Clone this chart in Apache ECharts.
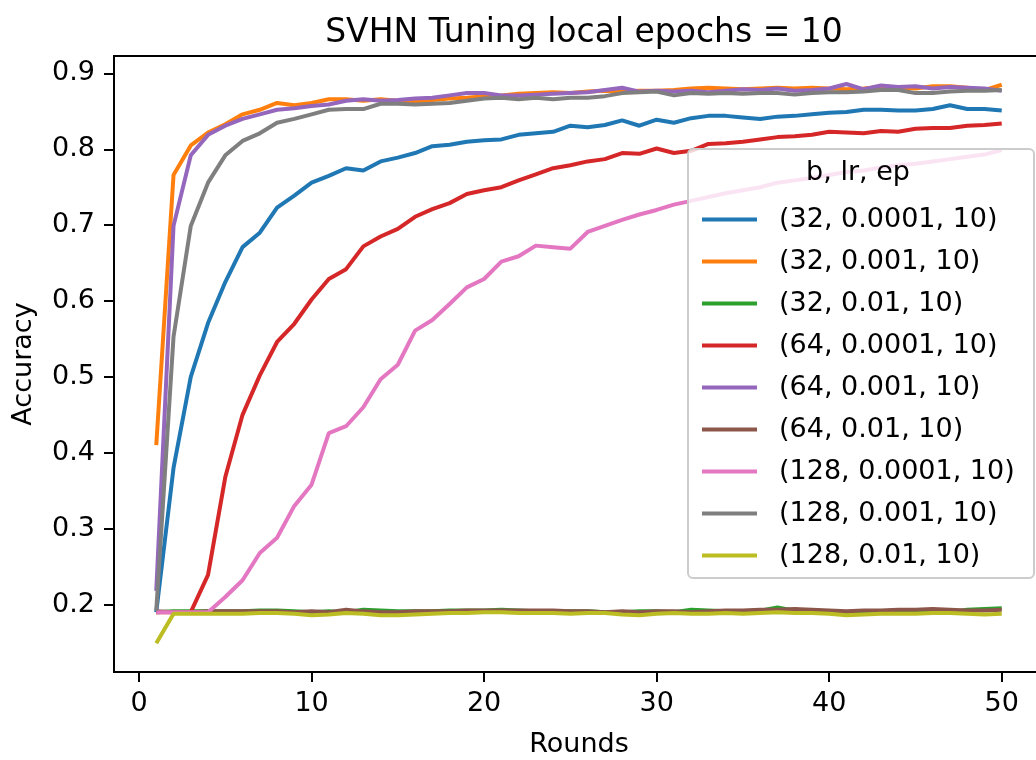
<!DOCTYPE html>
<html>
<head>
<meta charset="utf-8">
<script src="https://cdn.jsdelivr.net/npm/echarts@6/dist/echarts.min.js"></script>
<style>html,body{margin:0;padding:0;background:#fff}#c{width:1036px;height:760px}</style>
</head>
<body>
<div id="c"></div>
<script>
const rounds = Array.from({length: 50}, (_, i) => i + 1);
const xTicks = [0, 10, 20, 30, 40, 50];
const yTicks = [0.2, 0.3, 0.4, 0.5, 0.6, 0.7, 0.8, 0.9];
const seriesNames = ['(32, 0.0001, 10)', '(32, 0.001, 10)', '(32, 0.01, 10)', '(64, 0.0001, 10)', '(64, 0.001, 10)', '(64, 0.01, 10)', '(128, 0.0001, 10)', '(128, 0.001, 10)', '(128, 0.01, 10)'];
const colors = ['#1f77b4', '#ff7f0e', '#2ca02c', '#d62728', '#9467bd', '#8c564b', '#e377c2', '#7f7f7f', '#bcbd22'];

const b32_lr1e4 = [0.190, 0.380, 0.500, 0.571, 0.625, 0.671, 0.690, 0.723, 0.739, 0.756, 0.765, 0.775, 0.772, 0.784, 0.789, 0.795, 0.804, 0.806, 0.810, 0.812, 0.813, 0.819, 0.821, 0.823, 0.831, 0.829, 0.832, 0.838, 0.831, 0.839, 0.835, 0.841, 0.844, 0.844, 0.842, 0.840, 0.843, 0.844, 0.846, 0.848, 0.849, 0.852, 0.852, 0.851, 0.851, 0.853, 0.858, 0.853, 0.853, 0.851];
const b32_lr1e3 = [0.410, 0.766, 0.805, 0.822, 0.833, 0.846, 0.852, 0.861, 0.858, 0.861, 0.866, 0.866, 0.864, 0.866, 0.864, 0.863, 0.865, 0.867, 0.868, 0.870, 0.871, 0.873, 0.874, 0.875, 0.874, 0.876, 0.877, 0.876, 0.877, 0.877, 0.878, 0.880, 0.881, 0.880, 0.879, 0.880, 0.881, 0.880, 0.881, 0.880, 0.879, 0.880, 0.882, 0.881, 0.880, 0.883, 0.883, 0.881, 0.878, 0.885];
const b32_lr1e2 = [0.190, 0.191, 0.191, 0.191, 0.191, 0.191, 0.192, 0.192, 0.191, 0.190, 0.191, 0.190, 0.193, 0.192, 0.191, 0.191, 0.191, 0.192, 0.192, 0.192, 0.193, 0.192, 0.191, 0.191, 0.191, 0.191, 0.190, 0.190, 0.191, 0.191, 0.190, 0.193, 0.192, 0.191, 0.191, 0.192, 0.196, 0.192, 0.192, 0.191, 0.190, 0.191, 0.191, 0.192, 0.192, 0.191, 0.190, 0.193, 0.194, 0.195];
const b64_lr1e4 = [0.190, 0.190, 0.190, 0.239, 0.368, 0.450, 0.502, 0.546, 0.570, 0.602, 0.629, 0.642, 0.672, 0.685, 0.695, 0.711, 0.721, 0.729, 0.741, 0.746, 0.750, 0.759, 0.767, 0.775, 0.779, 0.784, 0.787, 0.795, 0.794, 0.801, 0.795, 0.798, 0.807, 0.808, 0.810, 0.813, 0.816, 0.817, 0.819, 0.823, 0.822, 0.821, 0.824, 0.823, 0.827, 0.828, 0.828, 0.831, 0.832, 0.834];
const b64_lr1e3 = [0.218, 0.699, 0.792, 0.819, 0.831, 0.840, 0.846, 0.852, 0.854, 0.857, 0.859, 0.864, 0.866, 0.864, 0.865, 0.867, 0.868, 0.871, 0.874, 0.874, 0.871, 0.871, 0.872, 0.873, 0.874, 0.875, 0.878, 0.881, 0.876, 0.877, 0.876, 0.877, 0.875, 0.877, 0.879, 0.878, 0.880, 0.877, 0.878, 0.880, 0.886, 0.879, 0.884, 0.882, 0.883, 0.880, 0.882, 0.881, 0.880, 0.877];
const b64_lr1e2 = [0.191, 0.190, 0.190, 0.191, 0.191, 0.191, 0.191, 0.191, 0.190, 0.191, 0.190, 0.193, 0.191, 0.190, 0.190, 0.191, 0.191, 0.191, 0.192, 0.192, 0.192, 0.192, 0.192, 0.192, 0.191, 0.191, 0.190, 0.191, 0.190, 0.191, 0.191, 0.190, 0.191, 0.192, 0.192, 0.193, 0.193, 0.194, 0.193, 0.192, 0.191, 0.192, 0.192, 0.193, 0.193, 0.194, 0.193, 0.192, 0.192, 0.193];
const b128_lr1e4 = [0.190, 0.190, 0.190, 0.190, 0.210, 0.232, 0.268, 0.288, 0.330, 0.358, 0.426, 0.435, 0.460, 0.497, 0.516, 0.561, 0.575, 0.596, 0.618, 0.629, 0.652, 0.659, 0.673, 0.671, 0.669, 0.691, 0.699, 0.707, 0.714, 0.720, 0.727, 0.732, 0.737, 0.742, 0.746, 0.750, 0.756, 0.759, 0.762, 0.766, 0.770, 0.772, 0.776, 0.779, 0.781, 0.784, 0.787, 0.790, 0.793, 0.799];
const b128_lr1e3 = [0.192, 0.553, 0.699, 0.756, 0.792, 0.811, 0.821, 0.835, 0.840, 0.846, 0.852, 0.853, 0.853, 0.860, 0.860, 0.859, 0.860, 0.861, 0.864, 0.867, 0.868, 0.866, 0.868, 0.866, 0.868, 0.868, 0.870, 0.874, 0.875, 0.876, 0.871, 0.874, 0.873, 0.874, 0.873, 0.874, 0.874, 0.872, 0.874, 0.875, 0.875, 0.876, 0.878, 0.878, 0.874, 0.874, 0.876, 0.877, 0.877, 0.878];
const b128_lr1e2 = [0.149, 0.188, 0.188, 0.188, 0.188, 0.188, 0.189, 0.189, 0.188, 0.186, 0.187, 0.189, 0.188, 0.186, 0.186, 0.187, 0.188, 0.189, 0.189, 0.190, 0.190, 0.189, 0.189, 0.189, 0.188, 0.189, 0.189, 0.187, 0.186, 0.188, 0.189, 0.188, 0.188, 0.189, 0.188, 0.189, 0.190, 0.189, 0.189, 0.188, 0.186, 0.187, 0.188, 0.188, 0.188, 0.189, 0.189, 0.188, 0.187, 0.188];

const allValues = [b32_lr1e4, b32_lr1e3, b32_lr1e2, b64_lr1e4, b64_lr1e3, b64_lr1e2, b128_lr1e4, b128_lr1e3, b128_lr1e2];

const FONT = 'DejaVu Sans';
const chart = echarts.init(document.getElementById('c'), null, {renderer: 'canvas'});

const series = allValues.map((vals, i) => ({
  name: seriesNames[i],
  type: 'line',
  data: rounds.map((r, j) => [r, vals[j]]),
  showSymbol: false,
  symbol: 'none',
  lineStyle: {width: 4, color: colors[i]},
  itemStyle: {color: colors[i]},
  emphasis: {disabled: true},
  z: 2
}));

chart.setOption({
  animation: false,
  backgroundColor: '#fff',
  textStyle: {fontFamily: FONT},
  title: {
    text: 'SVHN Tuning local epochs = 10',
    left: 579, top: 12, textAlign: 'center',
    textStyle: {fontFamily: FONT, fontSize: 33, fontWeight: 'normal', color: '#000'}
  },
  grid: {left: 114, top: 56, width: 930, height: 616, outerBoundsMode: 'none', containLabel: false,
         show: true, borderColor: '#000', borderWidth: 2, backgroundColor: 'transparent'},
  xAxis: {
    type: 'value', min: -1.45, max: 52.45,
    name: 'Rounds', nameLocation: 'middle', nameGap: 59,
    nameTextStyle: {fontFamily: FONT, fontSize: 27, color: '#000'},
    axisLine: {show: false, onZero: false},
    axisTick: {show: true, length: 10, customValues: xTicks, lineStyle: {color: '#000', width: 2}},
    axisLabel: {customValues: xTicks, margin: 18, fontFamily: FONT, fontSize: 27, color: '#000'},
    splitLine: {show: false}
  },
  yAxis: {
    type: 'value', min: 0.1111, max: 0.9229,
    name: 'Accuracy', nameLocation: 'middle', nameGap: 77, nameRotate: 90,
    nameTextStyle: {fontFamily: FONT, fontSize: 27, color: '#000'},
    axisLine: {show: false, onZero: false},
    axisTick: {show: true, length: 10, customValues: yTicks, lineStyle: {color: '#000', width: 2}},
    axisLabel: {customValues: yTicks, margin: 19, fontFamily: FONT, fontSize: 27, color: '#000', formatter: v => v.toFixed(1)},
    splitLine: {show: false}
  },
  legend: {
    data: seriesNames,
    orient: 'vertical',
    left: 697, top: 201,
    itemWidth: 55, itemHeight: 4, itemGap: 15,
    icon: 'rect',
    selectedMode: false,
    z: 200,
    textStyle: {fontFamily: FONT, fontSize: 27, lineHeight: 27, color: '#000', padding: [0, 0, 0, 17]}
  },
  graphic: [
    {type: 'rect', z: 100, shape: {x: 688, y: 149, width: 346, height: 429, r: 5},
     style: {fill: 'rgba(255,255,255,0.8)', stroke: '#cccccc', lineWidth: 2}},
    {type: 'text', z: 101, x: 858, y: 173,
     style: {text: 'b, lr, ep', font: '27px "DejaVu Sans"', fill: '#000', textAlign: 'center', textVerticalAlign: 'middle'}}
  ],
  series: series
});
</script>
</body>
</html>
